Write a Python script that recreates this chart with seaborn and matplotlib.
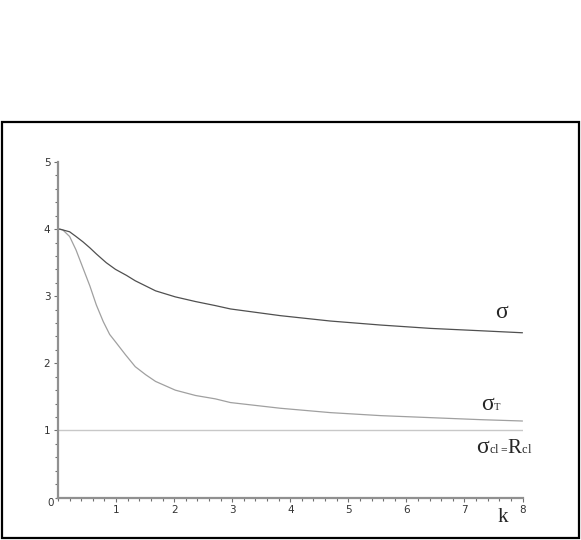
import matplotlib
matplotlib.use("Agg")
import matplotlib.pyplot as plt
import pandas as pd
import seaborn as sns
from matplotlib.patches import Rectangle
from matplotlib.ticker import MultipleLocator

sns.set_style("white")

# values
k_sigma = [0, 0.03, 0.20, 0.31, 0.43, 0.55, 0.66, 0.83, 0.99, 1.18, 1.33, 1.68, 2.02, 2.37,
           2.71, 2.97, 3.83, 4.69, 5.56, 6.42, 7.28, 8]
sigma = [4.0, 4.0, 3.96, 3.89, 3.81, 3.72, 3.63, 3.50, 3.40, 3.31, 3.23, 3.08, 2.99, 2.92,
         2.86, 2.81, 2.71, 2.63, 2.57, 2.52, 2.485, 2.455]

k_sigma_t = [0, 0.08, 0.20, 0.31, 0.43, 0.55, 0.66, 0.78, 0.89, 0.99, 1.16, 1.33, 1.51, 1.68,
             2.02, 2.37, 2.71, 2.97, 3.83, 4.69, 5.56, 6.42, 7.28, 8]
sigma_t = [4.0, 3.99, 3.89, 3.69, 3.42, 3.15, 2.87, 2.62, 2.43, 2.32, 2.13, 1.95, 1.83, 1.73,
           1.60, 1.52, 1.47, 1.415, 1.33, 1.265, 1.22, 1.19, 1.16, 1.14]

k_cl = [0, 8]
sigma_cl = [1, 1]

x_ticks = [1, 2, 3, 4, 5, 6, 7, 8]
y_ticks = [1, 2, 3, 4, 5]

W, H = 581, 540
fig = plt.figure(figsize=(W / 100, H / 100), dpi=100)
fig.patches.append(Rectangle((1.5 / W, 2 / H), 577.5 / W, 416 / H, transform=fig.transFigure,
                             fill=False, edgecolor="black", linewidth=1.6))

ax = fig.add_axes([58 / W, 42.5 / H, 464.5 / W, 335.5 / H])

df_s = pd.DataFrame({"k": k_sigma, "v": sigma})
df_t = pd.DataFrame({"k": k_sigma_t, "v": sigma_t})
df_c = pd.DataFrame({"k": k_cl, "v": sigma_cl})
sns.lineplot(data=df_c, x="k", y="v", ax=ax, color="#c8c8c8", linewidth=1.0)
sns.lineplot(data=df_t, x="k", y="v", ax=ax, color="#a0a0a0", linewidth=0.9)
sns.lineplot(data=df_s, x="k", y="v", ax=ax, color="#505050", linewidth=0.9)

ax.set_xlim(0, 8)
ax.set_ylim(0, 5)
ax.set_xlabel("")
ax.set_ylabel("")
for side in ["top", "right"]:
    ax.spines[side].set_visible(False)
for side in ["left", "bottom"]:
    ax.spines[side].set_color("#909090")
    ax.spines[side].set_linewidth(1.6)

ax.set_xticks(x_ticks)
ax.set_xticklabels([str(t) for t in x_ticks])
ax.set_yticks(y_ticks)
ax.set_yticklabels([str(t) for t in y_ticks])
ax.xaxis.set_minor_locator(MultipleLocator(0.2))
ax.yaxis.set_minor_locator(MultipleLocator(0.2))
ax.tick_params(which="both", direction="out", color="#707070", width=0.8,
               bottom=True, left=True)
ax.tick_params(which="major", length=3, labelsize=7.5, labelcolor="#333333", pad=2.5)
ax.tick_params(which="minor", length=2.5)
ax.annotate("0", xy=(0, 0), xytext=(-5.5, -4), textcoords="offset points",
            fontsize=7.5, color="#333333", ha="center", va="center")
ax.patch.set_alpha(0)

serif = "Liberation Serif"


def label(x, y, s, size):
    fig.text(x / W, 1 - y / H, s, family=serif, fontsize=size, ha="left", va="baseline")


label(495, 318, "σ", 17)
label(481, 410.5, "σ", 17)
label(494, 410.5, "T", 7.6)
label(476, 453, "σ", 17)
label(489, 453, "c", 9)
label(495, 453, "l", 9)
label(500.5, 453, "=", 8.5)
label(507.5, 453, "R", 15)
label(521.5, 453, "c", 9)
label(527.5, 453, "l", 9)
label(498, 522, "k", 15)

fig.savefig("out.png", dpi=100)
